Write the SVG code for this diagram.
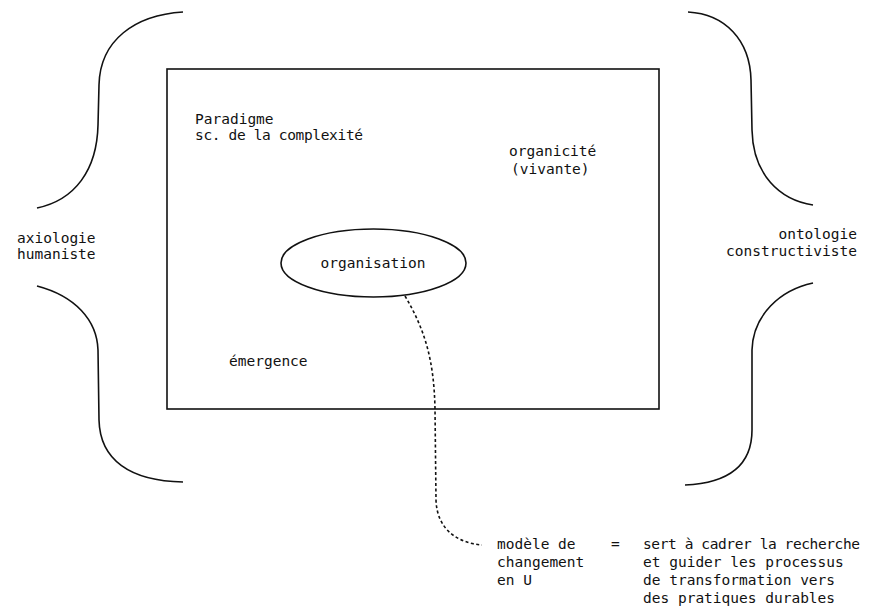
<svg xmlns="http://www.w3.org/2000/svg" width="873" height="614" viewBox="0 0 873 614">
  <style>
    .t { font-family: "DejaVu Sans Mono", "Liberation Mono", monospace; font-size: 14.5px; fill: #111; }
    .line { fill: none; stroke: #111; stroke-width: 1.6; }
    .dash { fill: none; stroke: #111; stroke-width: 1.6; stroke-dasharray: 3 2.5; }
  </style>
  <rect width="873" height="614" fill="#fff"/>

  <!-- left brace -->
  <g id="brace-left">
    <path class="line" d="M183,12 C135,15 100,40 99,85 L98,125 C97,170 75,200 37,208"/>
    <path class="line" d="M37,286 C75,296 97,320 98,350 L99,420 C100,460 130,481 183,482"/>
    <text class="t" x="17" y="243">axiologie</text>
    <text class="t" x="17" y="259">humaniste</text>
  </g>

  <!-- right brace -->
  <g id="brace-right">
    <path class="line" d="M688,12 C725,14 750,40 751,80 L752,130 C753,175 780,200 813,205"/>
    <path class="line" d="M813,283 C780,290 753,315 752,350 L752,430 C752,465 730,483 685,485"/>
    <text class="t" x="857" y="239" text-anchor="end">ontologie</text>
    <text class="t" x="857" y="256" text-anchor="end">constructiviste</text>
  </g>

  <!-- paradigm frame -->
  <g id="paradigme">
    <rect class="line" x="167" y="69" width="492" height="340" stroke-width="1.8"/>
    <text class="t" x="195" y="124">Paradigme</text>
    <text class="t" x="195" y="140" textLength="168" lengthAdjust="spacing">sc. de la complexité</text>
  </g>

  <g id="organicite">
    <text class="t" x="509" y="156">organicité</text>
    <text class="t" x="511" y="174">(vivante)</text>
  </g>

  <g id="emergence">
    <text class="t" x="229" y="366">émergence</text>
  </g>

  <g id="organisation">
    <ellipse class="line" cx="373.5" cy="263" rx="92.5" ry="34"/>
    <text class="t" x="373" y="268" text-anchor="middle">organisation</text>
  </g>

  <!-- connectors -->
  <g id="connectors">
    <path class="dash" d="M405,296 C425,330 434,360 435,409 L436,500 C437,530 458,543 482,545"/>
  </g>

  <g id="modele-u">
    <text class="t" x="497" y="549">modèle de</text>
    <text class="t" x="497" y="567">changement</text>
    <text class="t" x="497" y="585">en U</text>
    <text class="t" x="611" y="549">=</text>
    <text class="t" x="643" y="549" textLength="217" lengthAdjust="spacing">sert à cadrer la recherche</text>
    <text class="t" x="643" y="567">et guider les processus</text>
    <text class="t" x="643" y="585">de transformation vers</text>
    <text class="t" x="643" y="603">des pratiques durables</text>
  </g>
</svg>
